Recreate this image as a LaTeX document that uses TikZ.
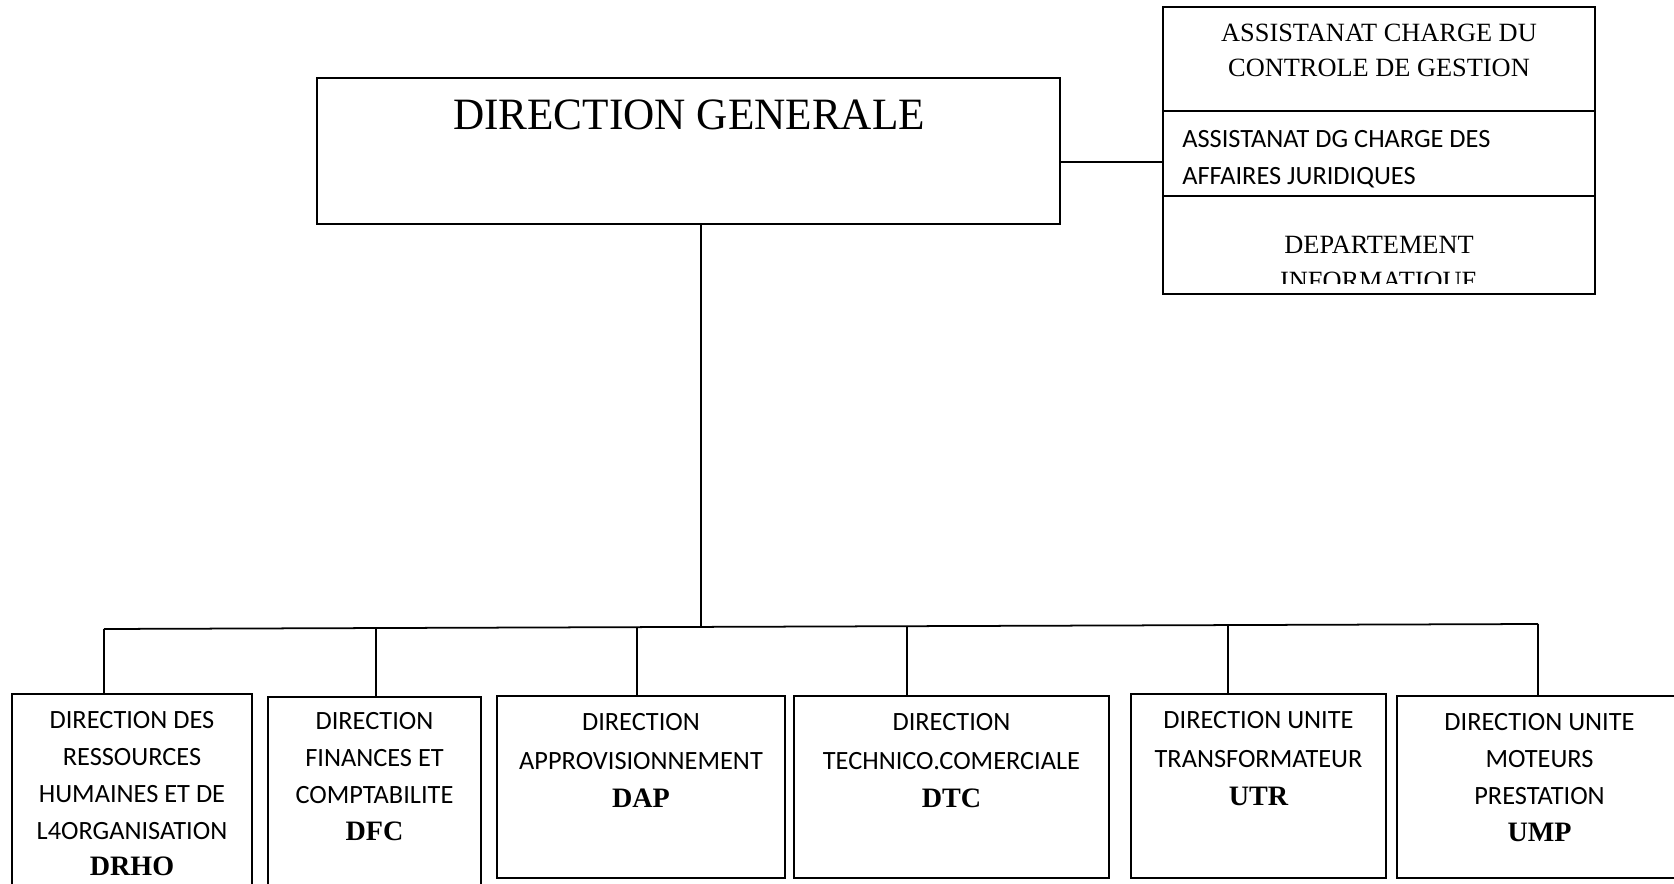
\documentclass[tikz,border=0pt]{standalone}
\usepackage{fontspec}
\setmainfont{Liberation Serif}
\newfontfamily\calib{Carlito}
\usetikzlibrary{fit}

\tikzset{
  box/.style={draw, line width=1.1pt, inner sep=0pt},
  link/.style={line width=1pt},
  unit/.style={align=center, inner sep=0pt, anchor=north, yshift=-0.37cm,
    font=\calib\fontsize{15}{21.8}\selectfont},
  longunit/.style={unit, font=\calib\fontsize{15}{20.9}\selectfont},
}
\newcommand{\sigle}[1]{{\rmfamily\bfseries\fontsize{16}{21}\selectfont #1}}

\begin{document}
\begin{tikzpicture}[x=0.02cm, y=-0.02cm]
	\useasboundingbox (0,0) rectangle (1674,884);
	
	%%% direction generale
	\node[box, fit={(317,78) (1060,224)}] (dg) {};
	\node[anchor=base, inner sep=0pt, font=\fontsize{25.5}{30}\selectfont] (dgt) at (689,130) {\scalebox{0.965}[1]{DIRECTION GENERALE}};
	
	%%% assistanats et departement
	\node[box, fit={(1163,7) (1595,111)}] (acg) {};
	\node[box, fit={(1163,111) (1595,196)}] (ajur) {};
	\node[box, fit={(1163,196) (1595,294)}] (dinf) {};
	\node[anchor=north, align=center, inner sep=0pt, font=\fontsize{15}{19.6}\selectfont] (acgt) at (1379,24) {ASSISTANAT CHARGE DU\\CONTROLE DE GESTION};
	\node[anchor=north west, align=left, inner sep=0pt, font=\calib\fontsize{15}{21}\selectfont] (ajurt) at (1182,130) {ASSISTANAT DG CHARGE DES\\AFFAIRES JURIDIQUES};
	\begin{scope}
		\clip (1163,196) rectangle (1595,284);
		\node[anchor=north, align=center, inner sep=0pt, font=\fontsize{15}{20.5}\selectfont] (dinft) at (1379,236) {DEPARTEMENT\\INFORMATIQUE};
	\end{scope}
	
	\coordinate (hj) at (0,162);
	\draw[link] (dg.east |- hj) -- (ajur.west |- hj);
	
	%%% directions
	\node[box, fit={(12,694) (252,900)}] (drho) {};
	\node[box, fit={(268,697) (481,900)}] (dfc) {};
	\node[box, fit={(497,696) (785,878)}] (dap) {};
	\node[box, fit={(794,696) (1109,878)}] (dtc) {};
	\node[box, fit={(1131,694) (1386,878)}] (utr) {};
	\node[box, fit={(1397,696) (1682,878)}] (ump) {};
	
	\node[longunit] (drhot) at (drho.north) {DIRECTION DES\\RESSOURCES\\HUMAINES ET DE\\L4ORGANISATION\\\sigle{DRHO}};
	\node[longunit, yshift=0.04cm] (dfct) at (dfc.north) {DIRECTION\\FINANCES ET\\COMPTABILITE\\\sigle{DFC}};
	\node[unit] (dapt) at (dap.north) {DIRECTION\\APPROVISIONNEMENT\\\sigle{DAP}};
	\node[unit] (dtct) at (dtc.north) {DIRECTION\\TECHNICO.COMERCIALE\\\sigle{DTC}};
	\node[unit] (utrt) at (utr.north) {DIRECTION UNITE\\TRANSFORMATEUR\\\sigle{UTR}};
	\node[longunit] (umpt) at (ump.north) {DIRECTION UNITE\\MOTEURS\\PRESTATION\\\sigle{UMP}};
	
	%%% liaisons
	\coordinate (s1) at (104,629);
	\coordinate (s2) at (376,628);
	\coordinate (s3) at (637,627);
	\coordinate (sdg) at (701,627);
	\coordinate (s4) at (907,626);
	\coordinate (s5) at (1228,625);
	\coordinate (s6) at (1538,624);
	
	\draw[link] (dg.south -| sdg) -- (sdg);
	\draw[link] (s1) -- (s6);
	\draw[link] (s1) -- (s1 |- drho.north);
	\draw[link] (s2) -- (s2 |- dfc.north);
	\draw[link] (s3) -- (s3 |- dap.north);
	\draw[link] (s4) -- (s4 |- dtc.north);
	\draw[link] (s5) -- (s5 |- utr.north);
	\draw[link] (s6) -- (s6 |- ump.north);
	
\end{tikzpicture}
\end{document}
